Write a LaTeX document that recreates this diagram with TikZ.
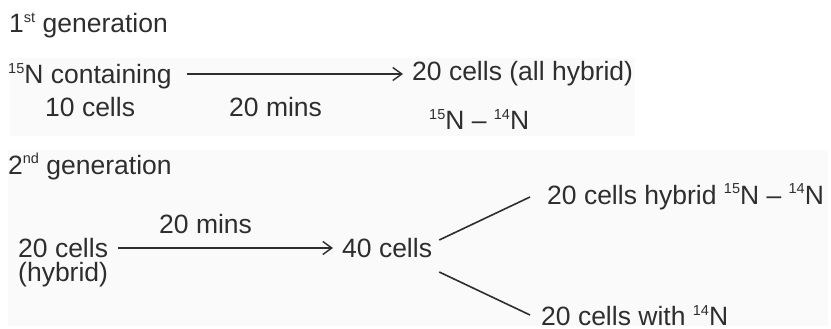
\documentclass[tikz,border=0pt]{standalone}
\usepackage{fontspec}
\setmainfont{Liberation Sans}
\usetikzlibrary{arrows.meta}
\definecolor{txt}{HTML}{2E2E2E}
\definecolor{bgk}{HTML}{FAFAFA}
\newcommand{\supnum}[1]{\raisebox{10pt}{\fontsize{14.5}{14.5}\selectfont #1}}
\begin{document}
\begin{tikzpicture}[x=1pt,y=-1pt,
  lbl/.style={anchor=base west,inner sep=0pt,text=txt,font=\fontsize{26.5}{30}\selectfont},
  arr/.style={draw=txt,line width=1.4pt,-{Straight Barb[length=9pt,width=13pt,line width=1.4pt]}},
  branch/.style={draw=txt,line width=1.6pt}]
\useasboundingbox (0,0) rectangle (831,329);
\fill[bgk] (10,58) rectangle (635,136);
\fill[bgk] (8,150) rectangle (828,326);
% first generation
\node[lbl] (g1) at (9,33) {1\supnum{st} generation};
\node[lbl] (a) at (8,84) {\supnum{15}N containing};
\node[lbl] (a2) at (45,117) {10 cells};
\node[lbl] (t1) at (229,117) {20 mins};
\node[lbl] (c) at (412,81) {20 cells (all hybrid)};
\node[lbl] (c2) at (429,130) {\supnum{15}N -- \supnum{14}N};
\draw[arr] ([xshift=15pt,yshift=10pt]a.base east) -- ([xshift=-9pt,yshift=7pt]c.base west);
% second generation
\node[lbl] (g2) at (8,174) {2\supnum{nd} generation};
\node[lbl] (t2) at (159,233) {20 mins};
\node[lbl] (d) at (18,257) {20 cells};
\node[lbl] (d2) at (18,281) {(hybrid)};
\node[lbl] (e) at (342,257) {40 cells};
\node[lbl] (f) at (547,204) {20 cells hybrid \supnum{15}N -- \supnum{14}N};
\node[lbl] (g) at (541,325) {20 cells with \supnum{14}N};
\draw[arr] ([xshift=10pt,yshift=9pt]d.base east) -- ([xshift=-9pt,yshift=9pt]e.base west);
\draw[branch] ([xshift=7pt,yshift=17pt]e.base east) -- ([xshift=-17pt,yshift=7pt]f.base west);
\draw[branch] ([xshift=7pt,yshift=-15pt]e.base east) -- ([xshift=-11pt,yshift=10pt]g.base west);
\end{tikzpicture}
\end{document}
